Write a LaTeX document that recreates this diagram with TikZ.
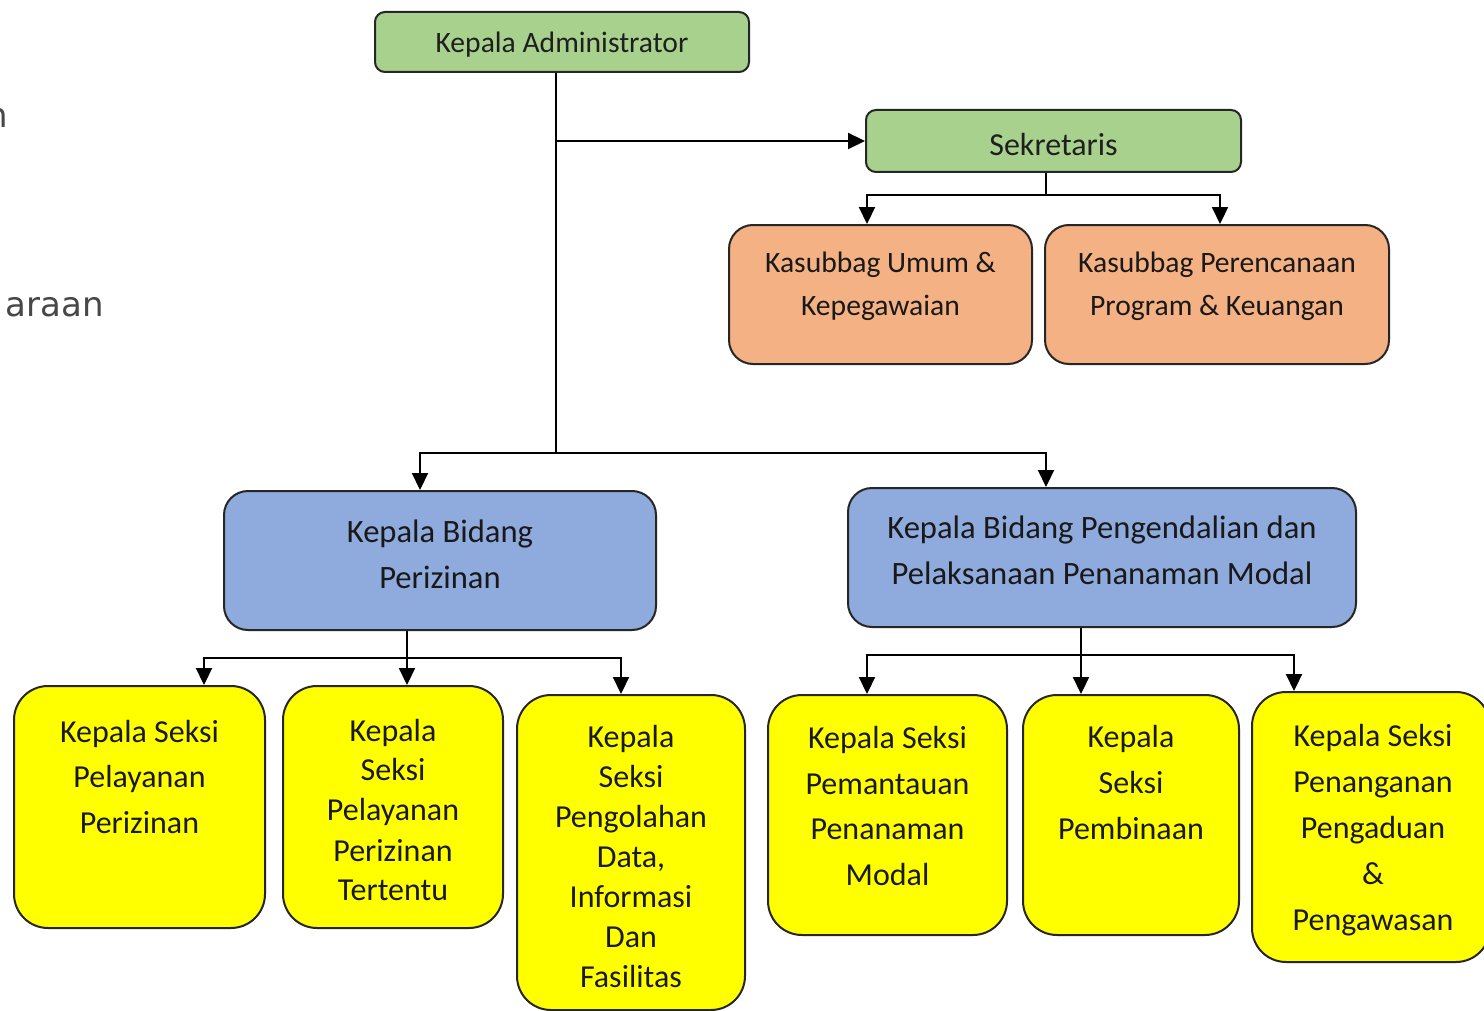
\documentclass[tikz,border=0pt]{standalone}
\usepackage{fontspec}
\setmainfont{Carlito}
\newfontfamily\dejavu{DejaVu Sans}
\usetikzlibrary{arrows.meta}
\definecolor{grn}{HTML}{A9D18E}
\definecolor{org}{HTML}{F4B183}
\definecolor{blu}{HTML}{8FAADC}
\definecolor{ylw}{HTML}{FFFF00}
\definecolor{frame}{HTML}{262626}
\begin{document}
\begin{tikzpicture}[x=0.5pt,y=-0.5pt,
  box/.style={draw=frame, line width=1pt, inner sep=0pt, rectangle},
  gbox/.style={box, fill=grn, rounded corners=5pt},
  gtxt/.style={align=center, text=black!88},
  obox/.style={box, fill=org, rounded corners=12pt, minimum height=69.5pt},
  bbox/.style={box, fill=blu, rounded corners=12pt, minimum height=69.5pt},
  ybox/.style={box, fill=ylw, rounded corners=17pt},
  otxt/.style={align=center, text=black!90, font=\fontsize{14.8}{21.5}\selectfont},
  btxt/.style={align=center, text=black!90, font=\fontsize{16.3}{23}\selectfont},
  ytxt/.style={align=center, text=black!90, font=\fontsize{16}{23}\selectfont},
  ytxtb/.style={align=center, text=black!90, font=\fontsize{16}{20}\selectfont},
  frag/.style={inner sep=0pt, anchor=base east, text=black!72, font=\dejavu\fontsize{17}{20}\selectfont},
  conn/.style={line width=1.1pt, draw=black},
  arr/.style={conn, -{Triangle[length=8.5pt,width=8pt]}}
]
\clip (0,0) rectangle (1484,1011);
\fill[white] (0,0) rectangle (1484,1011);

% cut-off text at the left edge
\node[frag] (f1) at (8,128) {n};
\node[frag] (f2) at (104,316) {araan};

% top level
\node[gbox, minimum width=187pt, minimum height=30pt, label={[gtxt,yshift=-1.5pt,font=\fontsize{14.8}{18}\selectfont]center:Kepala Administrator}] (adm) at (562,42) {};
\node[gbox, minimum width=187.5pt, minimum height=31pt, label={[gtxt,yshift=-2pt,font=\fontsize{16}{19}\selectfont]center:Sekretaris}] (sek) at (1053.5,141) {};

% orange
\node[obox, minimum width=151.5pt, label={[otxt,yshift=4pt]center:{Kasubbag Umum \&\\Kepegawaian}}] (o1) at (880.5,294.5) {};
\node[obox, minimum width=172pt, label={[otxt,yshift=4pt]center:{Kasubbag Perencanaan\\Program \& Keuangan}}] (o2) at (1217,294.5) {};

% blue
\node[bbox, minimum width=216pt, label={[btxt,yshift=3pt]center:{Kepala Bidang\\Perizinan}}] (b1) at (440,560.5) {};
\node[bbox, minimum width=254pt, label={[btxt,yshift=3.5pt]center:{Kepala Bidang Pengendalian dan\\Pelaksanaan Penanaman Modal}}] (b2) at (1102,557.5) {};

% yellow
\node[ybox, minimum width=125.5pt, minimum height=121pt, label={[ytxt,yshift=15pt]center:{Kepala Seksi\\Pelayanan\\Perizinan}}] (y1) at (139.5,807) {};
\node[ybox, minimum width=110pt, minimum height=121pt, label={[ytxtb,yshift=-1.5pt]center:{Kepala\\Seksi\\Pelayanan\\Perizinan\\Tertentu}}] (y2) at (393,807) {};
\node[ybox, minimum width=114pt, minimum height=157.5pt, label={[ytxtb,yshift=-2pt]center:{Kepala\\Seksi\\Pengolahan\\Data,\\Informasi\\Dan\\Fasilitas}}] (y3) at (631,852.5) {};
\node[ybox, minimum width=119.5pt, minimum height=120pt, label={[ytxt,yshift=4.5pt]center:{Kepala Seksi\\Pemantauan\\Penanaman\\Modal}}] (y4) at (887.5,815) {};
\node[ybox, minimum width=108pt, minimum height=120pt, label={[ytxt,yshift=16pt]center:{Kepala\\Seksi\\Pembinaan}}] (y5) at (1131,815) {};
\node[ybox, minimum width=119pt, minimum height=135pt, label={[ytxt,xshift=1pt,yshift=-1.5pt]center:{Kepala Seksi\\Penanganan\\Pengaduan\\\&\\Pengawasan}}] (y6) at (1371,827) {};

% connectors: administrator
\coordinate (ja) at (556,141);
\coordinate (jb) at (556,453);
\draw[conn] (ja |- adm.south) -- (jb);
\draw[arr] (ja) -- (sek.west);
\draw[arr] (jb) -| ([xshift=-10pt]b1.north);
\draw[arr] (jb) -| ([xshift=-28pt]b2.north);

% connectors: sekretaris
\coordinate (js) at (1046,195);
\draw[conn] (js |- sek.south) -- (js);
\draw[arr] (js) -| ([xshift=-6.75pt]o1.north);
\draw[arr] (js) -| ([xshift=1.5pt]o2.north);

% connectors: bidang perizinan
\coordinate (jp) at (407,658);
\draw[conn] (jp |- b1.south) -- (jp);
\draw[arr] (jp) -| ([xshift=32.25pt]y1.north);
\draw[arr] (jp) -- ([xshift=7pt]y2.north);
\draw[arr] (jp) -| ([xshift=-5pt]y3.north);

% connectors: bidang pengendalian
\coordinate (jq) at (1081,655);
\draw[conn] (jq |- b2.south) -- (jq);
\draw[arr] (jq) -| ([xshift=-10.25pt]y4.north);
\draw[arr] (jq) -- ([xshift=-25pt]y5.north);
\draw[arr] (jq) -| ([xshift=-38.5pt]y6.north);
\end{tikzpicture}
\end{document}
